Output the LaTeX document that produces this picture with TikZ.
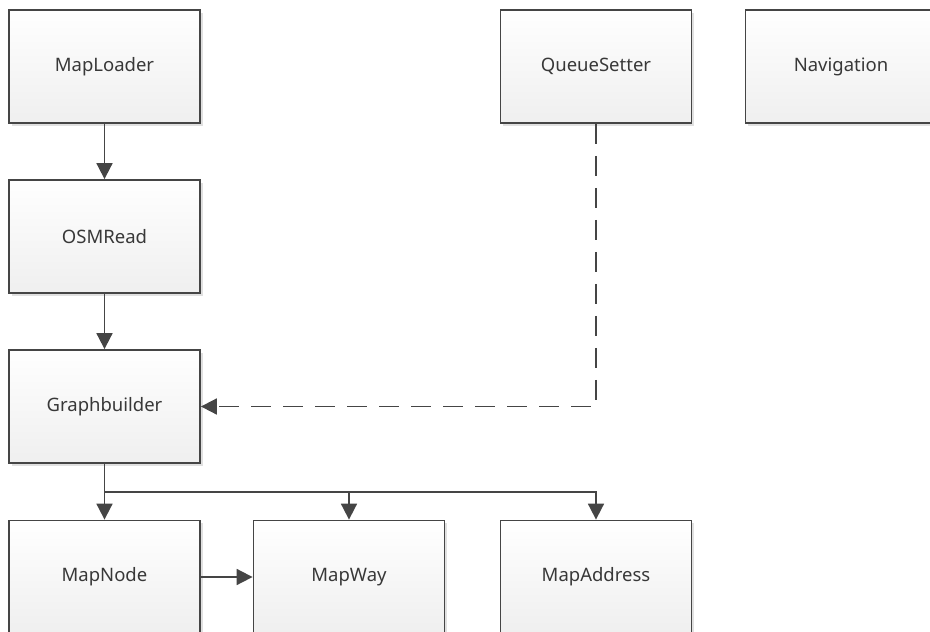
\documentclass[tikz,border=0pt]{standalone}
\usepackage{fontspec}
\setmainfont{Noto Sans}
\usetikzlibrary{arrows.meta,shadows}
\definecolor{edge}{HTML}{454545}
\definecolor{txt}{HTML}{383838}
\definecolor{boxbot}{HTML}{EFEFEF}
\tikzset{
  classbox/.style={draw=edge, line width=1.8pt, minimum width=191pt, minimum height=113pt,
    top color=white, bottom color=boxbot, inner sep=0pt,
    text=txt, font=\fontsize{18.5}{21}\selectfont,
    drop shadow={shadow xshift=2.5pt, shadow yshift=-2.5pt, fill=black, opacity=0.12}},
  link/.style={draw=edge, line width=1.8pt, -{Triangle[length=16pt,width=16pt]}},
  weaklink/.style={link, dash pattern=on 20pt off 12pt},
}
\begin{document}
\begin{tikzpicture}[x=1pt,y=-1pt]
  \useasboundingbox (0,0) rectangle (930,632);
  \clip (0,0) rectangle (930,632);
  % top row
  \node[classbox] (ml) at (104.5,66.5) {MapLoader};
  \node[classbox] (qs) at (596,66.5) {QueueSetter};
  \node[classbox] (nav) at (841,66.5) {Navigation};
  % loader chain
  \node[classbox] (osm) at (104.5,236.5) {OSMRead};
  \node[classbox] (gb) at (104.5,406.5) {Graphbuilder};
  % map elements
  \node[classbox] (mn) at (104.5,577) {MapNode};
  \node[classbox] (mw) at (349,577) {MapWay};
  \node[classbox] (ma) at (596,577) {MapAddress};
  % connectors
  \draw[link] (ml) -- (osm);
  \draw[link] (osm) -- (gb);
  \draw[weaklink] (qs.south) |- (gb.east);
  \coordinate (bus) at (104.5,492);
  \draw[link] (gb.south) -- (mn.north);
  \draw[link] (bus) -| (mw.north);
  \draw[link] (bus) -| (ma.north);
  \draw[link] (mn) -- (mw);
\end{tikzpicture}
\end{document}
